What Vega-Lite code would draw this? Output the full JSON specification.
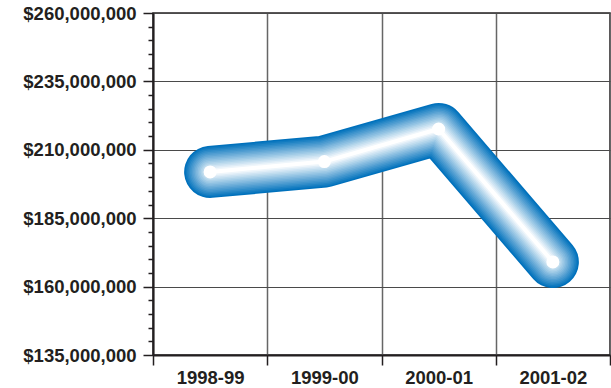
{
  "$schema": "https://vega.github.io/schema/vega-lite/v6.json",
  "width": 457,
  "height": 342,
  "autosize": "none",
  "padding": {"left": 153, "top": 13, "right": 1, "bottom": 33},
  "background": "white",
  "config": {
    "view": {"stroke": "#231f20", "strokeWidth": 1.5},
    "font": "Liberation Sans",
    "axis": {
      "labelFont": "Liberation Sans",
      "labelFontWeight": 700,
      "labelFontSize": 18.5,
      "labelColor": "#231f20",
      "domainColor": "#231f20",
      "domainWidth": 2,
      "tickColor": "#231f20",
      "tickWidth": 1.5,
      "gridColor": "#4a4a4a",
      "gridWidth": 1,
      "gridOpacity": 1,
      "title": null
    },
    "line": {"strokeCap": "round", "strokeJoin": "round"}
  },
  "data": {
    "values": [
      {"year": "1998-99", "amount": 201900000},
      {"year": "1999-00", "amount": 205700000},
      {"year": "2000-01", "amount": 217600000},
      {"year": "2001-02", "amount": 169000000}
    ]
  },
  "encoding": {
    "x": {
      "field": "year",
      "type": "nominal",
      "sort": null,
      "scale": {"type": "band", "paddingInner": 0, "paddingOuter": 0},
      "axis": {"labelAngle": 0, "tickBand": "extent", "tickSize": 10, "labelPadding": 3, "grid": true, "gridColor": "#666", "gridWidth": 1.5}
    },
    "y": {
      "field": "amount",
      "type": "quantitative",
      "scale": {"domain": [135000000, 260000000], "nice": false, "zero": false},
      "axis": null
    }
  },
  "layer": [
    {
      "mark": {"type": "line", "color": "#0071bc", "strokeWidth": 52},
      "encoding": {
        "y": {
          "field": "amount", "type": "quantitative",
          "axis": {"orient": "left", "values": [135000000, 160000000, 185000000, 210000000, 235000000, 260000000], "format": "$,.0f", "tickSize": 10, "labelPadding": 7, "grid": true}
        }
      }
    },
    {
      "mark": {"type": "line", "color": "#107ac0", "strokeWidth": 49},
      "encoding": {
        "y": {
          "field": "amount", "type": "quantitative",
          "axis": {"orient": "left", "values": [140000000, 145000000, 150000000, 155000000, 165000000, 170000000, 175000000, 180000000, 190000000, 195000000, 200000000, 205000000, 215000000, 220000000, 225000000, 230000000, 240000000, 245000000, 250000000, 255000000], "labels": false, "tickSize": 5, "grid": false, "domain": false}
        }
      }
    },
    {"mark": {"type": "line", "color": "#2083c4", "strokeWidth": 46}},
    {"mark": {"type": "line", "color": "#308cc9", "strokeWidth": 43}},
    {"mark": {"type": "line", "color": "#4095cd", "strokeWidth": 40}},
    {"mark": {"type": "line", "color": "#509dd1", "strokeWidth": 37}},
    {"mark": {"type": "line", "color": "#60a6d5", "strokeWidth": 34}},
    {"mark": {"type": "line", "color": "#70afd9", "strokeWidth": 31}},
    {"mark": {"type": "line", "color": "#80b8de", "strokeWidth": 28}},
    {"mark": {"type": "line", "color": "#8fc1e2", "strokeWidth": 25}},
    {"mark": {"type": "line", "color": "#9fcae6", "strokeWidth": 22}},
    {"mark": {"type": "line", "color": "#afd3ea", "strokeWidth": 19}},
    {"mark": {"type": "line", "color": "#bfdcee", "strokeWidth": 16}},
    {"mark": {"type": "line", "color": "#cfe4f3", "strokeWidth": 13}},
    {"mark": {"type": "line", "color": "#dfedf7", "strokeWidth": 10}},
    {"mark": {"type": "line", "color": "#eff6fb", "strokeWidth": 7}},
    {"mark": {"type": "line", "color": "#ffffff", "strokeWidth": 4}},
    {"mark": {"type": "point", "filled": true, "color": "#ffffff", "opacity": 1, "size": 170}}
  ],
  "resolve": {"axis": {"y": "independent"}}
}
